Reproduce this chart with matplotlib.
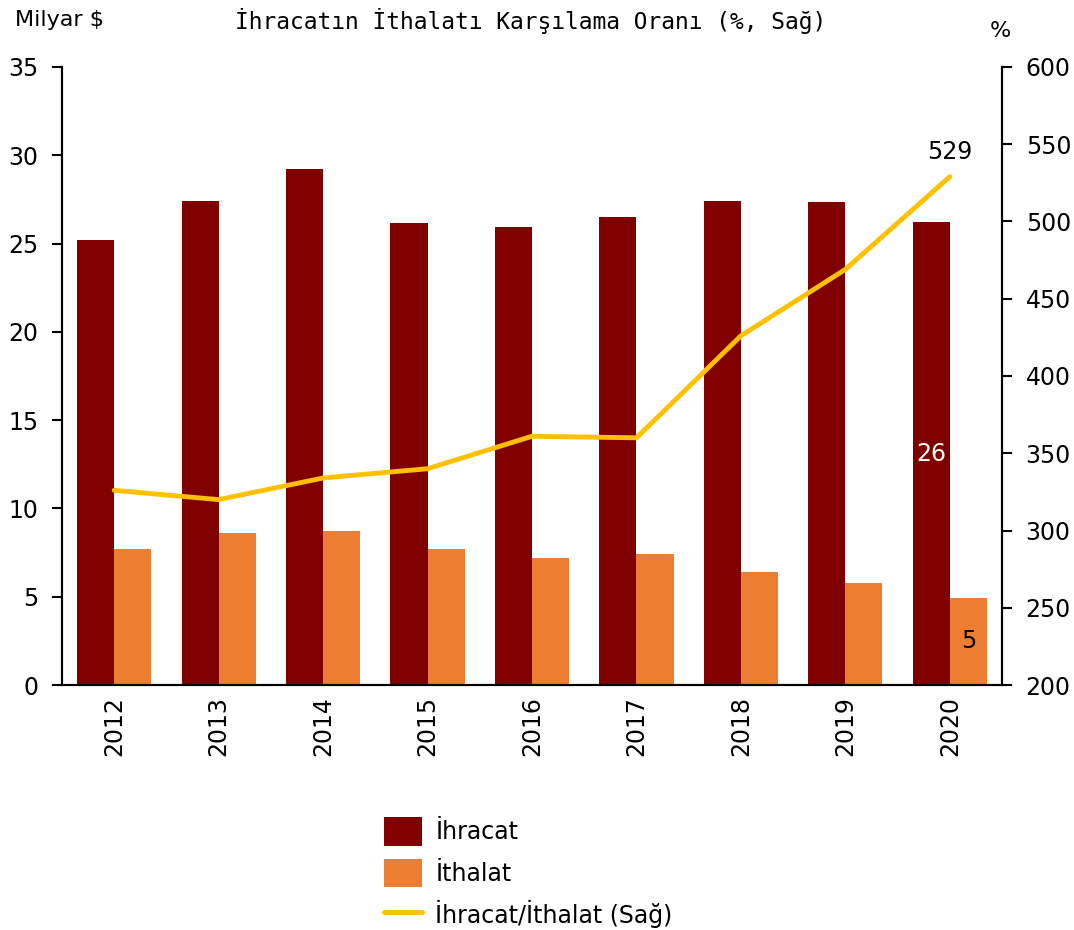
import matplotlib.pyplot as plt
import numpy as np

years = ['2012', '2013', '2014', '2015', '2016', '2017', '2018', '2019', '2020']
ihracat = [25.2, 27.4, 29.2, 26.15, 25.95, 26.5, 27.4, 27.35, 26.2]
ithalat = [7.7, 8.6, 8.75, 7.7, 7.2, 7.4, 6.4, 5.8, 4.95]
oran = [326, 320, 334, 340, 361, 360, 426, 469, 529]

dark_red = '#800000'
orange = '#ED7D31'
yellow = '#FFC000'

plt.rcParams['font.family'] = ['DejaVu Sans']

fig = plt.figure(figsize=(10.74, 9.3), dpi=100)
ax = fig.add_axes([0.0577, 0.2634, 0.8753, 0.6646])
ax2 = ax.twinx()

x = np.arange(len(years))
w = 0.355
b1 = ax.bar(x - w / 2, ihracat, w, color=dark_red, label='İhracat')
b2 = ax.bar(x + w / 2, ithalat, w, color=orange, label='İthalat')
ln, = ax2.plot(x, oran, color=yellow, lw=3.5, solid_capstyle='round',
               label='İhracat/İthalat (Sağ)')

ax.set_xlim(-0.5, len(years) - 0.5)
ax.set_ylim(0, 35)
ax.set_yticks(range(0, 36, 5))
ax2.set_ylim(200, 600)
ax2.set_yticks(range(200, 601, 50))

ax.set_xticks(x)
ax.set_xticklabels(years, rotation=90, fontsize=17)
ax.tick_params(axis='x', length=0, pad=8)
ax.tick_params(axis='y', labelsize=17, length=7, width=1.5, pad=10)
ax2.tick_params(axis='y', labelsize=17, length=7, width=1.5, pad=10)

for a in (ax, ax2):
    a.spines['top'].set_visible(False)
    for s in ('left', 'right', 'bottom'):
        a.spines[s].set_linewidth(1.5)

# annotations for last year
ax2.annotate(f'{oran[-1]}', (x[-1], oran[-1]), xytext=(0, 9),
             textcoords='offset points', ha='center', va='bottom', fontsize=17)
ax.text(x[-1] - w / 2, 13.1, f'{round(ihracat[-1])}', color='white',
        ha='center', va='center', fontsize=17)
ax.text(x[-1] + w / 2, 2.5, f'{round(ithalat[-1])}', color='black',
        ha='center', va='center', fontsize=17)

fig.text(0.014, 0.978, 'Milyar $', fontsize=16, ha='left', va='center')
fig.text(0.494, 0.977, 'İhracatın İthalatı Karşılama Oranı (%, Sağ)',
         fontsize=16.5, ha='center', va='center', family='DejaVu Sans Mono')
fig.text(0.931, 0.967, '%', fontsize=16, ha='center', va='center')

fig.legend(handles=[b1, b2, ln], loc='lower left',
           bbox_to_anchor=(0.358, 0.0), frameon=False, fontsize=17,
           handlelength=1.6, handleheight=1.5, labelspacing=0.55,
           handletextpad=0.55, borderpad=0.0, borderaxespad=0.0)

fig.savefig('out.png', dpi=100)
